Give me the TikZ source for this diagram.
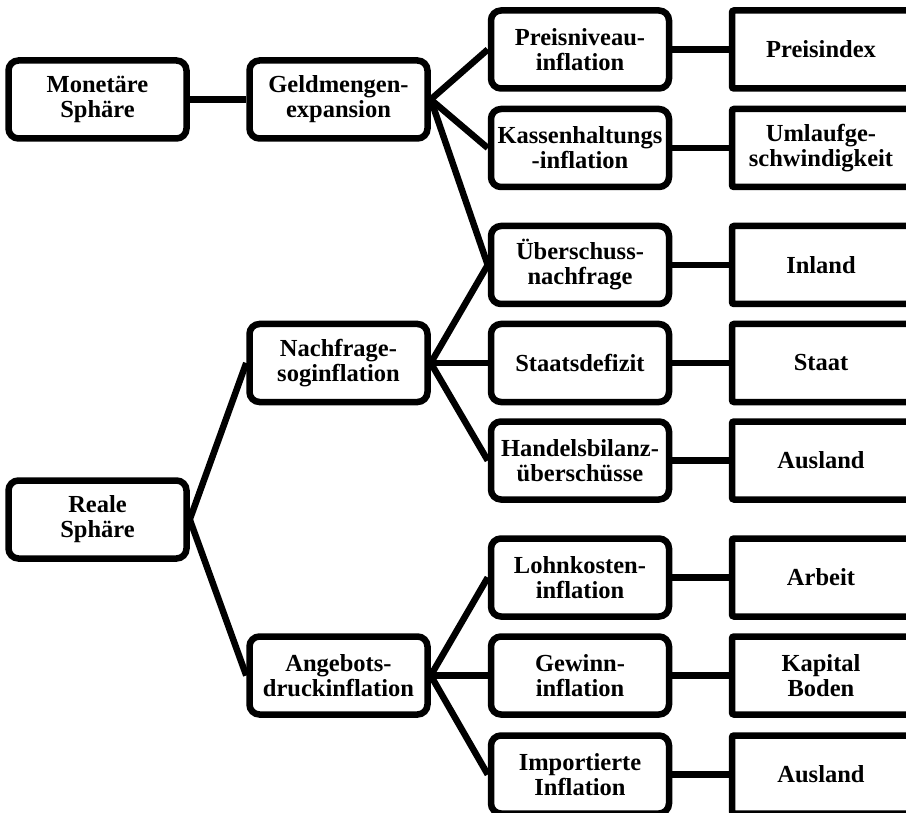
\documentclass[tikz,border=0pt]{standalone}
\usepackage{fontspec}
\setmainfont{Liberation Serif}
\begin{document}
\begin{tikzpicture}[x=1pt,y=-1pt,
  box/.style={draw, line width=6.5pt, rounded corners=10pt, minimum width=178pt, minimum height=78pt, inner sep=0pt, align=center, font=\fontsize{24.5}{25}\selectfont\bfseries},
  endbox/.style={box, rounded corners=2pt},
  link/.style={line width=6.5pt}]
\useasboundingbox (0,0) rectangle (906,813);
\clip (0,0) rectangle (906,813);
% column 1
\node[box] (mon) at (97.5,99.5) {Monetäre\\Sphäre};
\node[box] (real) at (97.5,519.5) {Reale\\Sphäre};
% column 2
\node[box] (geld) at (338.5,99.5) {Geldmengen-\\expansion};
\node[box] (nach) at (338.5,363) {Nachfrage-\\soginflation};
\node[box] (ange) at (338.5,675.5) {Angebots-\\druckinflation};
% column 3
\node[box] (preis) at (580,49.5) {Preisniveau-\\inflation};
\node[box] (kass) at (580,148) {Kassenhaltungs\\-inflation};
\node[box] (ueber) at (580,265) {Überschuss-\\nachfrage};
\node[box] (staat) at (580,363) {Staatsdefizit};
\node[box] (handel) at (580,460.5) {Handelsbilanz-\\überschüsse};
\node[box] (lohn) at (580,577.5) {Lohnkosten-\\inflation};
\node[box] (gew) at (580,675.5) {Gewinn-\\inflation};
\node[box] (imp) at (580,774.5) {Importierte\\Inflation};
% column 4
\node[endbox] (pidx) at (821,49.5) {Preisindex};
\node[endbox] (uml) at (821,148) {Umlaufge-\\schwindigkeit};
\node[endbox] (inl) at (821,265) {Inland};
\node[endbox] (sta) at (821,363) {Staat};
\node[endbox] (aus1) at (821,460.5) {Ausland};
\node[endbox] (arb) at (821,577.5) {Arbeit};
\node[endbox] (kap) at (821,675.5) {Kapital\\Boden};
\node[endbox] (aus2) at (821,774.5) {Ausland};
% connectors
\draw[link] (mon.east) -- (geld.west);
\draw[link] (real.east) -- (nach.west);
\draw[link] (real.east) -- (ange.west);
\draw[link] (geld.east) -- (preis.west);
\draw[link] (geld.east) -- (kass.west);
\draw[link] (geld.east) -- (ueber.west);
\draw[link] (nach.east) -- (ueber.west);
\draw[link] (nach.east) -- (staat.west);
\draw[link] (nach.east) -- (handel.west);
\draw[link] (ange.east) -- (lohn.west);
\draw[link] (ange.east) -- (gew.west);
\draw[link] (ange.east) -- (imp.west);
\draw[link] (preis.east) -- (pidx.west);
\draw[link] (kass.east) -- (uml.west);
\draw[link] (ueber.east) -- (inl.west);
\draw[link] (staat.east) -- (sta.west);
\draw[link] (handel.east) -- (aus1.west);
\draw[link] (lohn.east) -- (arb.west);
\draw[link] (gew.east) -- (kap.west);
\draw[link] (imp.east) -- (aus2.west);
\end{tikzpicture}
\end{document}
